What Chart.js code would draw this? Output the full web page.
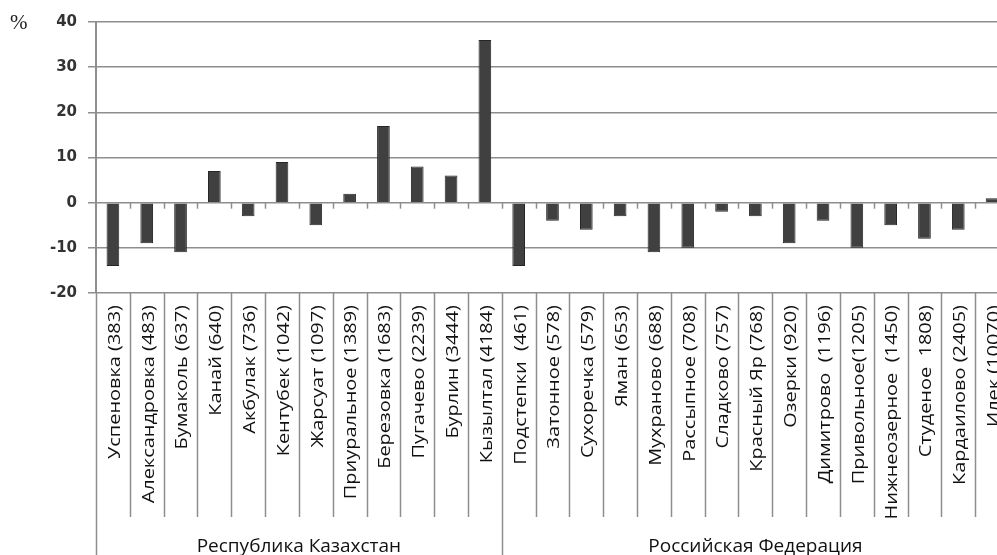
<!DOCTYPE html>
<html>
<head>
<meta charset="utf-8">
<script src="https://cdn.jsdelivr.net/npm/chart.js@4.4.1/dist/chart.umd.min.js"></script>
<style>
html,body{margin:0;padding:0;background:#fff;overflow:hidden;width:997px;height:555px;}
#wrap{position:absolute;left:0;top:0;width:1010px;height:555px;}
</style>
</head>
<body>
<div id="wrap"><canvas id="c" width="1010" height="555"></canvas></div>
<script>
// ---- data ----
const categories = [
  "Успеновка (383)", "Александровка (483)", "Бумаколь (637)", "Канай (640)",
  "Акбулак (736)", "Кентубек (1042)", "Жарсуат (1097)", "Приуральное (1389)",
  "Березовка (1683)", "Пугачево (2239)", "Бурлин (3444)", "Кызылтал (4184)",
  "Подстепки  (461)", "Затонное (578)", "Сухоречка (579)", "Яман (653)",
  "Мухраново (688)", "Рассыпное (708)", "Сладково (757)", "Красный Яр (768)",
  "Озерки (920)", "Димитрово  (1196)", "Привольное(1205)", "Нижнеозерное  (1450)",
  "Студеное  1808)", "Кардаилово (2405)", "Илек (10070)"
];
const values = [
  -14, -9, -11, 7, -3, 9, -5, 2, 17, 8, 6, 36,
  -14, -4, -6, -3, -11, -10, -2, -3, -9, -4, -10, -5, -8, -6, 1
];
const groupNames = ["Республика Казахстан", "Российская Федерация"];
const groupSizes = [12, 15];
const yTicks = [-20, -10, 0, 10, 20, 30, 40];
const unitLabel = "%";

const GRID = '#8e8e8e';
const LABEL_FONT = '17px "Open Sans"';

const decor = {
  id: 'decor',
  afterDraw(chart) {
    const ctx = chart.ctx;
    const xs = chart.scales.x, ys = chart.scales.y;
    const n = categories.length;
    const w = (xs.getPixelForValue(1) - xs.getPixelForValue(0));
    const bound = i => xs.getPixelForValue(0) - w / 2 + i * w;
    const y0 = ys.getPixelForValue(0);
    const yb = chart.chartArea.bottom;
    const groupEdges = [0];
    groupSizes.forEach(s => groupEdges.push(groupEdges[groupEdges.length - 1] + s));
    ctx.save();
    ctx.strokeStyle = GRID;
    ctx.lineWidth = 1.5;
    // small ticks on the zero line
    for (let i = 1; i < n; i++) {
      const x = Math.round(bound(i)) + 0.5;
      ctx.beginPath(); ctx.moveTo(x, y0); ctx.lineTo(x, y0 + 6); ctx.stroke();
    }
    // category dividers below the plot
    for (let i = 0; i <= n; i++) {
      const x = Math.round(bound(i)) + 0.5;
      const isGroup = groupEdges.includes(i);
      ctx.beginPath(); ctx.moveTo(x, yb); ctx.lineTo(x, isGroup ? chart.height : yb + 224); ctx.stroke();
    }
    // category labels (rotated, reading bottom-to-top, end near the axis)
    ctx.fillStyle = '#111';
    ctx.font = LABEL_FONT;
    const stretch = 154 / ctx.measureText(categories[0]).width;
    for (let i = 0; i < n; i++) {
      const cx = xs.getPixelForValue(i) + 2;
      ctx.save();
      ctx.translate(cx, yb + 12);
      ctx.rotate(-Math.PI / 2);
      ctx.scale(stretch, 1);
      ctx.textAlign = 'right';
      ctx.textBaseline = 'middle';
      ctx.fillText(categories[i], 0, 0);
      ctx.restore();
    }
    // group labels
    ctx.fillStyle = '#111';
    ctx.font = '19px "Open Sans"';
    ctx.textAlign = 'center';
    ctx.textBaseline = 'alphabetic';
    for (let g = 0; g < groupNames.length; g++) {
      const cx = (bound(groupEdges[g]) + bound(groupEdges[g + 1])) / 2;
      ctx.fillText(groupNames[g], cx, 552);
    }
    // unit label
    ctx.font = '21px "Liberation Serif"';
    ctx.textAlign = 'left';
    ctx.fillStyle = '#222';
    ctx.fillText(unitLabel, 10, 29);
    ctx.restore();
  }
};

new Chart(document.getElementById('c'), {
  type: 'bar',
  data: {
    labels: categories,
    datasets: [{
      data: values,
      backgroundColor: '#404040',
      borderColor: '#262626',
      borderWidth: 1,
      categoryPercentage: 1,
      barPercentage: 0.375
    }]
  },
  options: {
    responsive: false,
    animation: false,
    devicePixelRatio: 1,
    layout: { padding: { top: 22, right: 1, left: 0, bottom: 0 } },
    plugins: { legend: { display: false }, tooltip: { enabled: false } },
    scales: {
      x: {
        offset: true,
        grid: { display: false },
        border: { display: false },
        ticks: { display: false },
        afterFit(scale) { scale.height = 262; }
      },
      y: {
        min: -20,
        max: 40,
        afterBuildTicks(scale) { scale.ticks = yTicks.map(v => ({ value: v })); },
        grid: { color: GRID, lineWidth: 1.5, tickLength: 8, drawTicks: true },
        border: { color: GRID, width: 2 },
        ticks: {
          padding: 11,
          color: '#333',
          font: { family: '"DejaVu Sans"', size: 15, weight: 'bold' }
        },
        afterFit(scale) { scale.width = 96; }
      }
    }
  },
  plugins: [decor]
});
</script>
</body>
</html>
